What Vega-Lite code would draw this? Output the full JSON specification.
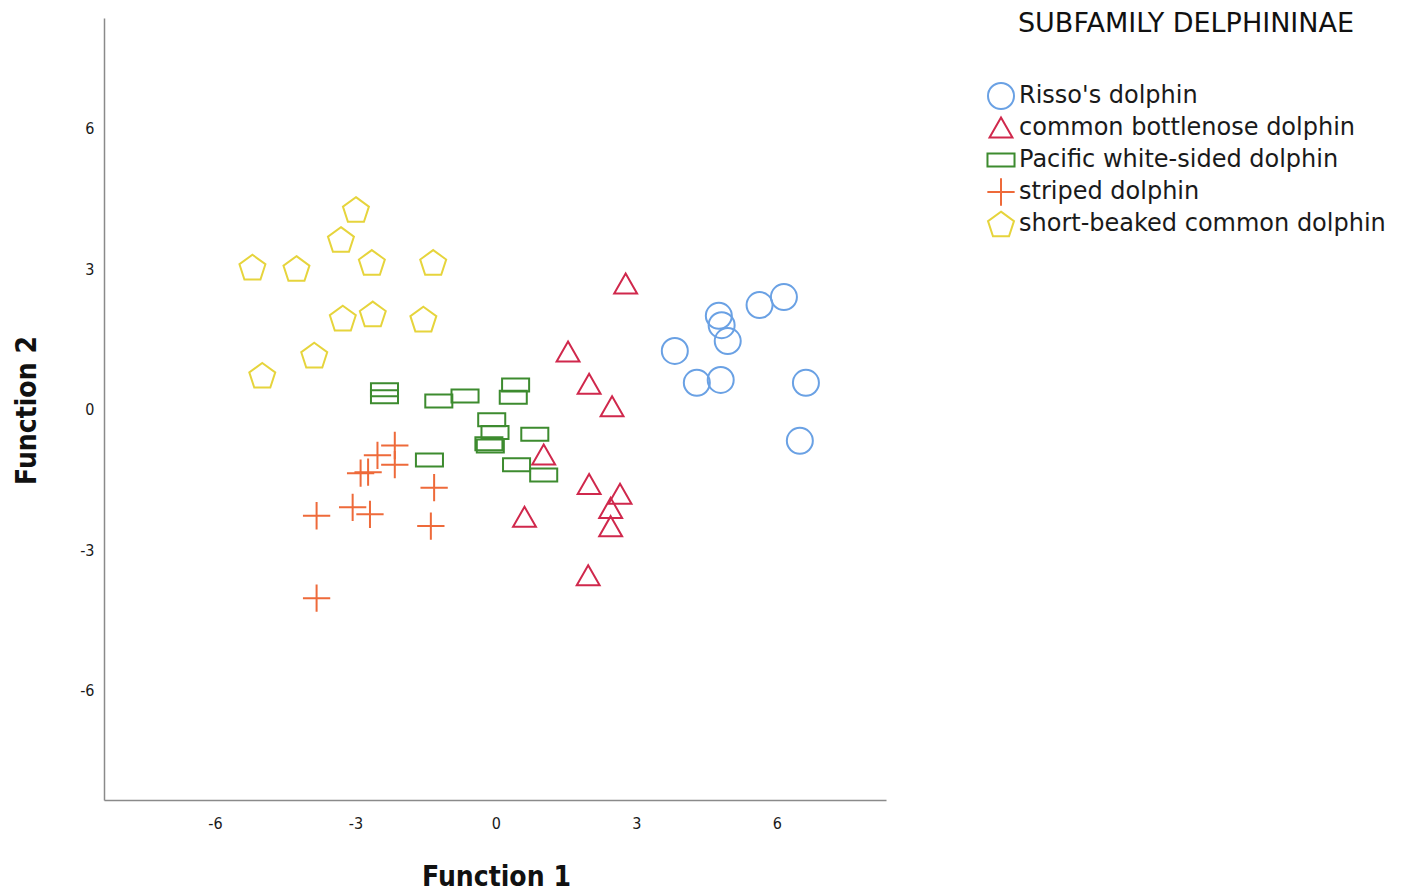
{
  "$schema": "https://vega.github.io/schema/vega-lite/v6.json",
  "width": 782,
  "height": 782,
  "autosize": {"type": "none"},
  "padding": {"left": 104, "top": 18, "right": 517, "bottom": 92},
  "background": "white",
  "config": {
    "view": {"stroke": null},
    "font": "DejaVu Sans"
  },
  "data": {
    "values": [
      {"f1": 3.82, "f2": 1.26, "species": "Risso's dolphin"},
      {"f1": 4.29, "f2": 0.58, "species": "Risso's dolphin"},
      {"f1": 4.80, "f2": 0.64, "species": "Risso's dolphin"},
      {"f1": 4.76, "f2": 2.01, "species": "Risso's dolphin"},
      {"f1": 4.82, "f2": 1.81, "species": "Risso's dolphin"},
      {"f1": 4.95, "f2": 1.47, "species": "Risso's dolphin"},
      {"f1": 5.63, "f2": 2.24, "species": "Risso's dolphin"},
      {"f1": 6.15, "f2": 2.41, "species": "Risso's dolphin"},
      {"f1": 6.62, "f2": 0.58, "species": "Risso's dolphin"},
      {"f1": 6.49, "f2": -0.66, "species": "Risso's dolphin"},
      {"f1": -2.38, "f2": 0.43, "species": "Pacific white-sided dolphin"},
      {"f1": -2.38, "f2": 0.28, "species": "Pacific white-sided dolphin"},
      {"f1": -1.22, "f2": 0.19, "species": "Pacific white-sided dolphin"},
      {"f1": -0.66, "f2": 0.30, "species": "Pacific white-sided dolphin"},
      {"f1": 0.42, "f2": 0.53, "species": "Pacific white-sided dolphin"},
      {"f1": 0.37, "f2": 0.27, "species": "Pacific white-sided dolphin"},
      {"f1": -0.09, "f2": -0.21, "species": "Pacific white-sided dolphin"},
      {"f1": -0.02, "f2": -0.48, "species": "Pacific white-sided dolphin"},
      {"f1": -0.15, "f2": -0.72, "species": "Pacific white-sided dolphin"},
      {"f1": -0.12, "f2": -0.77, "species": "Pacific white-sided dolphin"},
      {"f1": 0.83, "f2": -0.52, "species": "Pacific white-sided dolphin"},
      {"f1": -1.42, "f2": -1.07, "species": "Pacific white-sided dolphin"},
      {"f1": 0.44, "f2": -1.17, "species": "Pacific white-sided dolphin"},
      {"f1": 1.02, "f2": -1.39, "species": "Pacific white-sided dolphin"},
      {"f1": -2.16, "f2": -0.76, "species": "striped dolphin"},
      {"f1": -2.16, "f2": -1.17, "species": "striped dolphin"},
      {"f1": -2.53, "f2": -0.97, "species": "striped dolphin"},
      {"f1": -2.89, "f2": -1.35, "species": "striped dolphin"},
      {"f1": -2.73, "f2": -1.33, "species": "striped dolphin"},
      {"f1": -1.32, "f2": -1.66, "species": "striped dolphin"},
      {"f1": -3.06, "f2": -2.08, "species": "striped dolphin"},
      {"f1": -2.69, "f2": -2.23, "species": "striped dolphin"},
      {"f1": -3.83, "f2": -2.26, "species": "striped dolphin"},
      {"f1": -1.39, "f2": -2.48, "species": "striped dolphin"},
      {"f1": -3.83, "f2": -4.02, "species": "striped dolphin"},
      {"f1": -2.99, "f2": 4.28, "species": "short-beaked common dolphin"},
      {"f1": -3.31, "f2": 3.64, "species": "short-beaked common dolphin"},
      {"f1": -5.20, "f2": 3.05, "species": "short-beaked common dolphin"},
      {"f1": -4.26, "f2": 3.02, "species": "short-beaked common dolphin"},
      {"f1": -2.65, "f2": 3.15, "species": "short-beaked common dolphin"},
      {"f1": -1.34, "f2": 3.15, "species": "short-beaked common dolphin"},
      {"f1": -3.27, "f2": 1.96, "species": "short-beaked common dolphin"},
      {"f1": -2.63, "f2": 2.05, "species": "short-beaked common dolphin"},
      {"f1": -1.55, "f2": 1.94, "species": "short-beaked common dolphin"},
      {"f1": -3.88, "f2": 1.17, "species": "short-beaked common dolphin"},
      {"f1": -4.99, "f2": 0.74, "species": "short-beaked common dolphin"},
      {"f1": 2.77, "f2": 2.69, "species": "common bottlenose dolphin"},
      {"f1": 1.54, "f2": 1.24, "species": "common bottlenose dolphin"},
      {"f1": 1.99, "f2": 0.55, "species": "common bottlenose dolphin"},
      {"f1": 2.48, "f2": 0.07, "species": "common bottlenose dolphin"},
      {"f1": 1.02, "f2": -0.96, "species": "common bottlenose dolphin"},
      {"f1": 1.99, "f2": -1.59, "species": "common bottlenose dolphin"},
      {"f1": 2.65, "f2": -1.80, "species": "common bottlenose dolphin"},
      {"f1": 2.45, "f2": -2.10, "species": "common bottlenose dolphin"},
      {"f1": 2.45, "f2": -2.49, "species": "common bottlenose dolphin"},
      {"f1": 0.61, "f2": -2.29, "species": "common bottlenose dolphin"},
      {"f1": 1.97, "f2": -3.54, "species": "common bottlenose dolphin"}
    ]
  },
  "mark": {"type": "point", "filled": false, "strokeWidth": 2, "size": 676, "opacity": 1},
  "encoding": {
    "x": {
      "field": "f1",
      "type": "quantitative",
      "scale": {"domain": [-8.37, 8.33], "nice": false, "zero": false},
      "axis": {
        "title": "Function 1",
        "values": [-6, -3, 0, 3, 6],
        "labelExpr": "'' + datum.value",
        "grid": false,
        "ticks": false,
        "domainColor": "#8a8a8a",
        "domainWidth": 1.5,
        "labelFont": "DejaVu Sans Condensed",
        "labelFontSize": 16,
        "labelColor": "#1a1a1a",
        "labelPadding": 15,
        "titleFont": "DejaVu Sans Condensed",
        "titleFontSize": 28,
        "titleFontWeight": "bold",
        "titleColor": "#111111",
        "titleBaseline": "middle",
        "titleY": 77,
        "titleX": 392
      }
    },
    "y": {
      "field": "f2",
      "type": "quantitative",
      "scale": {"domain": [-8.33, 8.37], "nice": false, "zero": false},
      "axis": {
        "title": "Function 2",
        "values": [-6, -3, 0, 3, 6],
        "labelExpr": "'' + datum.value",
        "grid": false,
        "ticks": false,
        "domainColor": "#8a8a8a",
        "domainWidth": 1.5,
        "labelFont": "DejaVu Sans Condensed",
        "labelFontSize": 16,
        "labelColor": "#1a1a1a",
        "labelPadding": 10,
        "titleFont": "DejaVu Sans Condensed",
        "titleFontSize": 28,
        "titleFontWeight": "bold",
        "titleColor": "#111111",
        "titleBaseline": "middle",
        "titleX": -77,
        "titleY": 392
      }
    },
    "color": {
      "field": "species",
      "type": "nominal",
      "scale": {
        "domain": ["Risso's dolphin", "common bottlenose dolphin", "Pacific white-sided dolphin", "striped dolphin", "short-beaked common dolphin"],
        "range": ["#6aa1e4", "#d0284c", "#3d8b2f", "#ee6a3a", "#e6d43c"]
      },
      "legend": {
        "title": "SUBFAMILY DELPHININAE",
        "orient": "none",
        "legendX": 883,
        "legendY": -7,
        "padding": 0,
        "gridAlign": "all",
        "titleFont": "DejaVu Sans",
        "titleFontSize": 27,
        "titleFontWeight": "normal",
        "titleColor": "#111111",
        "titleAnchor": "middle",
        "titleLimit": 800,
        "titlePadding": 44,
        "labelFont": "DejaVu Sans",
        "labelFontSize": 24,
        "labelColor": "#1a1a1a",
        "labelOffset": 4,
        "labelLimit": 500,
        "rowPadding": -8,
        "symbolSize": 676,
        "symbolStrokeWidth": 2,
        "symbolFillColor": "transparent"
      }
    },
    "shape": {
      "field": "species",
      "type": "nominal",
      "scale": {
        "domain": ["Risso's dolphin", "common bottlenose dolphin", "Pacific white-sided dolphin", "striped dolphin", "short-beaked common dolphin"],
        "range": [
          "circle",
          "M0,-0.8L0.88,0.74L-0.88,0.74Z",
          "M-1.04,-0.5L1.04,-0.5L1.04,0.5L-1.04,0.5Z",
          "M-1.05,0L1.05,0M0,-1.05L0,1.05",
          "M0,-0.95L0.999,-0.224L0.617,0.949L-0.617,0.949L-0.999,-0.224Z"
        ]
      },
      "legend": null
    }
  }
}
